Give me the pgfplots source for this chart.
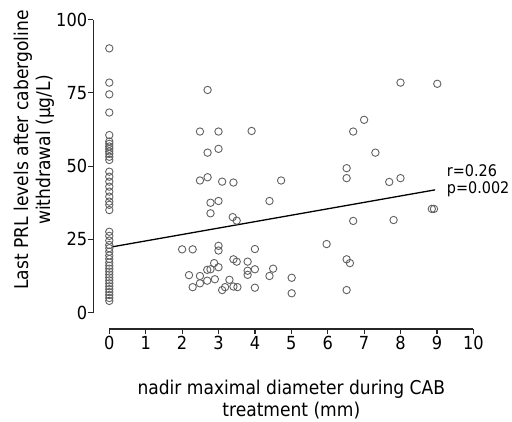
\documentclass[border=0pt]{standalone}
\usepackage{pgfplots}
\pgfplotsset{compat=1.18}
\usepackage{fontspec}
\setmainfont{DejaVu Sans Condensed}
\begin{document}
\begin{tikzpicture}
\begin{axis}[
  scale only axis, width=364pt, height=293pt,
  xmin=0, xmax=10, ymin=0, ymax=100,
  axis x line=bottom, axis y line=left,
  axis x line shift=16.3pt, axis y line shift=16pt,
  axis line style={-, line width=1.2pt, black!85},
  tick align=outside, major tick length=5pt,
  tick style={line width=1.2pt, black!85},
  xtick={0,...,10}, ytick={0,25,50,75,100},
  ticklabel style={font=\fontsize{18}{20}\selectfont},
  xticklabel style={inner sep=2pt},
  yticklabel style={inner sep=1pt},
  /pgf/number format/assume math mode=true,
  clip=false,
  xlabel={nadir maximal diameter during CAB\\treatment (mm)},
  xlabel style={align=center, font=\fontsize{19}{22}\selectfont,
    at={(axis description cs:0.5,-0.295)}, anchor=center},
  ylabel={Last PRL levels after cabergoline\\withdrawal (μg/L)},
  ylabel style={align=center, font=\fontsize{19}{22}\selectfont,
    at={(axis description cs:-0.207,0.555)}, anchor=center},
]
% patients with no residual tumour (x = 0)
\addplot[only marks, mark=o, mark size=3.7pt, mark options={line width=0.9pt, draw=black!62}]
coordinates {
(0,90.2) (0,78.5) (0,74.5) (0,68.3) (0,60.6) (0,58.4) (0,57.6) (0,56.7) (0,55.9)
(0,55.0) (0,54.2) (0,53.2) (0,52.1) (0,48.1) (0,46.4) (0,44.7) (0,43.0) (0,41.3)
(0,39.6) (0,37.9) (0,36.8) (0,35.0) (0,27.6) (0,26.2) (0,24.6) (0,23.1) (0,22.0)
(0,20.8) (0,19.5) (0,18.3) (0,17.1) (0,16.0) (0,15.0) (0,14.0) (0,13.0) (0,12.0)
(0,11.0) (0,10.0) (0,9.0) (0,8.0) (0,7.0) (0,6.0) (0,5.0) (0,4.0)
};
% residual tumour
\addplot[only marks, mark=o, mark size=3.7pt, mark options={line width=0.9pt, draw=black!62}]
coordinates {
(2.70,76.0) (2.49,61.8) (3.00,61.8) (3.91,62.0) (2.70,54.6) (3.00,55.9)
(2.49,45.1) (2.70,46.2) (3.10,44.7) (3.41,44.4) (4.72,45.1) (2.78,37.5)
(3.00,38.1) (4.40,38.1) (2.78,33.9) (3.39,32.6) (3.50,31.4) (5.97,23.4)
(2.00,21.6) (2.29,21.6) (3.00,22.8) (3.00,21.2) (4.00,21.7) (3.41,18.2)
(3.50,17.4) (3.80,17.4) (2.88,16.9) (3.00,15.5) (2.69,14.6) (2.78,14.8)
(3.80,14.3) (3.80,12.9) (4.00,14.8) (4.50,15.0) (4.40,12.5) (5.01,11.9)
(2.19,12.8) (2.49,12.5) (2.69,10.9) (2.90,11.4) (2.49,10.0) (2.29,8.7)
(3.30,11.2) (3.10,7.7) (3.18,8.7) (3.41,8.9) (3.52,8.7) (4.00,8.5)
(5.01,6.6) (8.00,78.5) (9.01,78.1) (7.00,65.8) (6.70,61.8) (7.31,54.6)
(6.52,49.3) (6.52,45.9) (7.69,44.6) (8.00,45.9) (8.86,35.4) (8.92,35.4)
(6.70,31.3) (7.81,31.6) (6.52,18.2) (6.61,16.9) (6.52,7.7)
};
% regression line
\addplot[black, line width=1.3pt] coordinates {(0.1,22.5) (8.95,41.9)};
\node[anchor=base west, inner sep=0pt, font=\fontsize{16}{12}\selectfont] at (axis cs:9.27,46.4) {r=0.26};
\node[anchor=base west, inner sep=0pt, font=\fontsize{16}{12}\selectfont] at (axis cs:9.27,40.7) {p=0.002};
% frame of the reference picture
\path (axis cs:-3.003,106.7) rectangle (axis cs:11.063,-35.94);
\end{axis}
\end{tikzpicture}
\end{document}
